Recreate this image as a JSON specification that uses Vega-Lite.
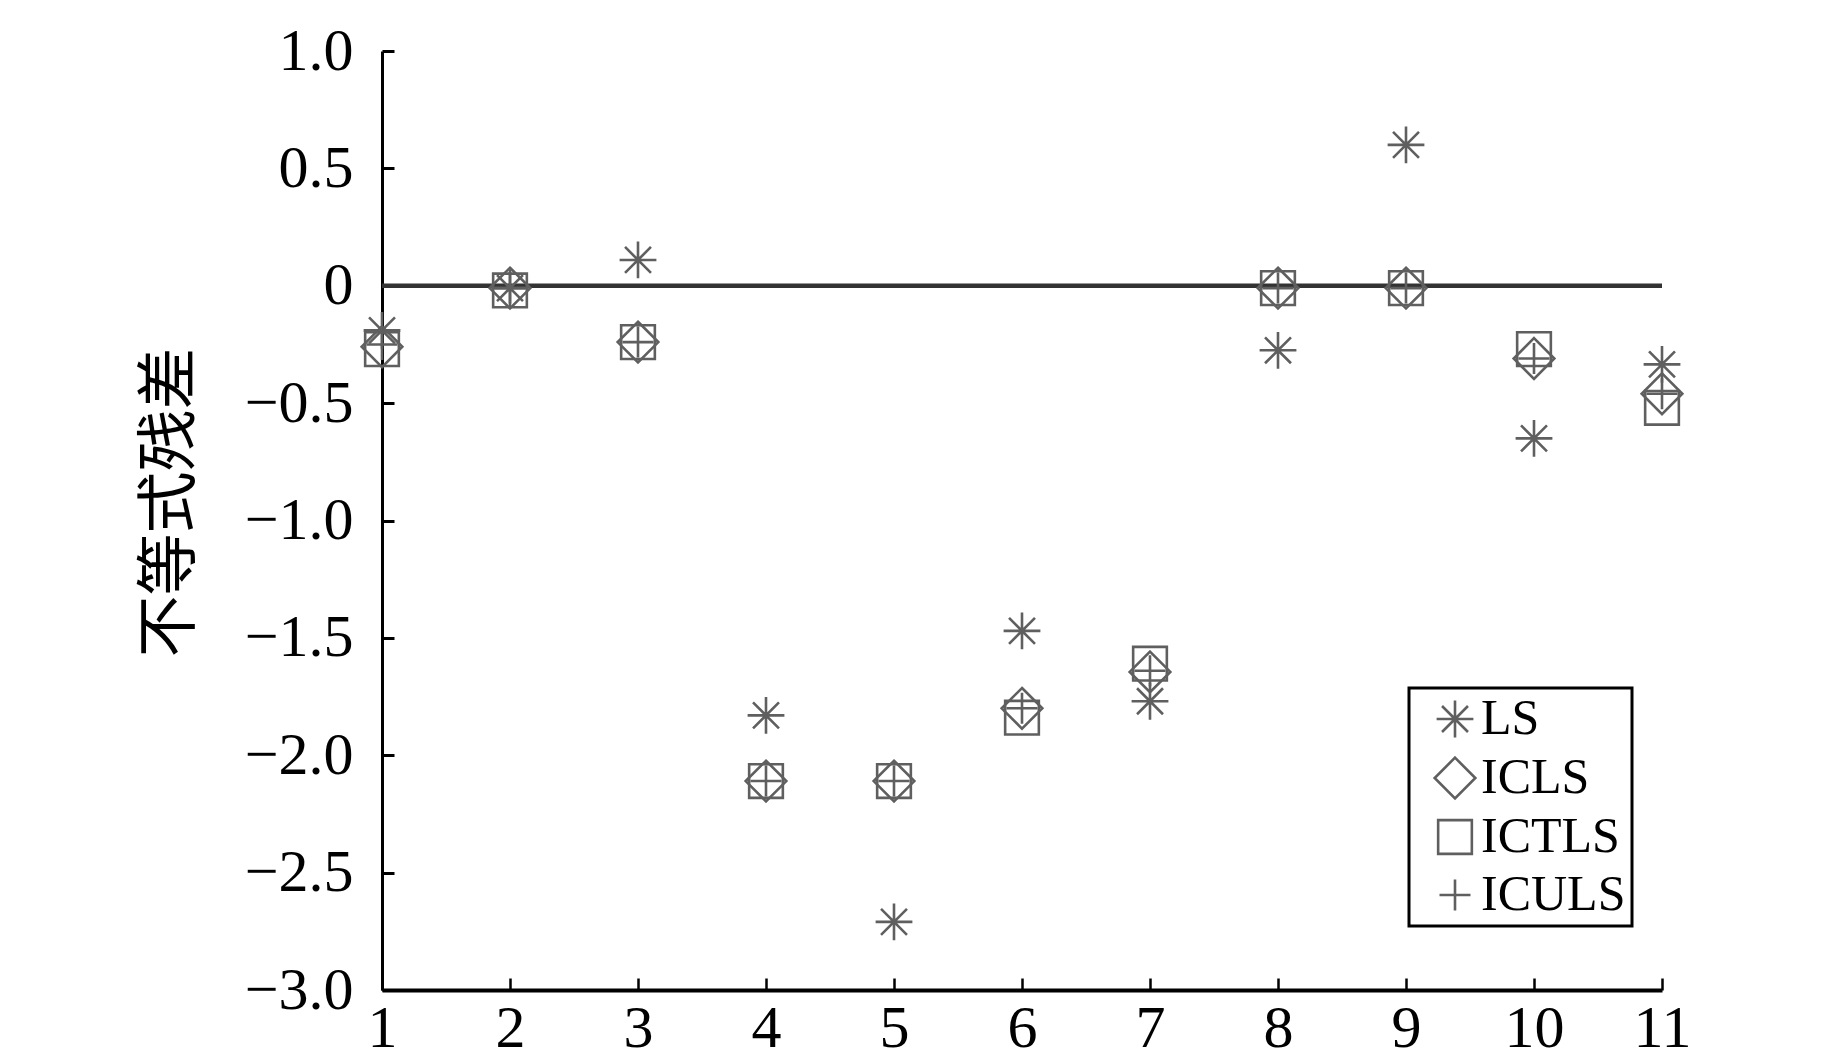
{
  "$schema": "https://vega.github.io/schema/vega-lite/v6.json",
  "width": 1280,
  "height": 939,
  "autosize": {"type": "none"},
  "padding": {"left": 382, "top": 51, "right": 181, "bottom": 73},
  "background": "white",
  "config": {"view": {"stroke": null}, "font": "Liberation Serif", "legend": {"strokeWidth": 3}},
  "datasets": {
    "zero": [{"x1": 1, "x2": 11, "y": 0}],
    "pts": [
      {"idx": 1, "method": "LS", "residual": -0.19},
      {"idx": 1, "method": "ICLS", "residual": -0.26},
      {"idx": 1, "method": "ICTLS", "residual": -0.27},
      {"idx": 1, "method": "ICULS", "residual": -0.25},
      {"idx": 2, "method": "LS", "residual": -0.01},
      {"idx": 2, "method": "ICLS", "residual": -0.01},
      {"idx": 2, "method": "ICTLS", "residual": -0.02},
      {"idx": 2, "method": "ICULS", "residual": -0.01},
      {"idx": 3, "method": "LS", "residual": 0.11},
      {"idx": 3, "method": "ICLS", "residual": -0.24},
      {"idx": 3, "method": "ICTLS", "residual": -0.24},
      {"idx": 3, "method": "ICULS", "residual": -0.24},
      {"idx": 4, "method": "LS", "residual": -1.83},
      {"idx": 4, "method": "ICLS", "residual": -2.11},
      {"idx": 4, "method": "ICTLS", "residual": -2.11},
      {"idx": 4, "method": "ICULS", "residual": -2.11},
      {"idx": 5, "method": "LS", "residual": -2.71},
      {"idx": 5, "method": "ICLS", "residual": -2.11},
      {"idx": 5, "method": "ICTLS", "residual": -2.11},
      {"idx": 5, "method": "ICULS", "residual": -2.11},
      {"idx": 6, "method": "LS", "residual": -1.47},
      {"idx": 6, "method": "ICLS", "residual": -1.8},
      {"idx": 6, "method": "ICTLS", "residual": -1.84},
      {"idx": 6, "method": "ICULS", "residual": -1.8},
      {"idx": 7, "method": "LS", "residual": -1.77},
      {"idx": 7, "method": "ICLS", "residual": -1.645},
      {"idx": 7, "method": "ICTLS", "residual": -1.61},
      {"idx": 7, "method": "ICULS", "residual": -1.64},
      {"idx": 8, "method": "LS", "residual": -0.275},
      {"idx": 8, "method": "ICLS", "residual": -0.01},
      {"idx": 8, "method": "ICTLS", "residual": -0.01},
      {"idx": 8, "method": "ICULS", "residual": -0.01},
      {"idx": 9, "method": "LS", "residual": 0.6},
      {"idx": 9, "method": "ICLS", "residual": -0.01},
      {"idx": 9, "method": "ICTLS", "residual": -0.01},
      {"idx": 9, "method": "ICULS", "residual": -0.01},
      {"idx": 10, "method": "LS", "residual": -0.65},
      {"idx": 10, "method": "ICLS", "residual": -0.31},
      {"idx": 10, "method": "ICTLS", "residual": -0.27},
      {"idx": 10, "method": "ICULS", "residual": -0.31},
      {"idx": 11, "method": "LS", "residual": -0.335},
      {"idx": 11, "method": "ICLS", "residual": -0.46},
      {"idx": 11, "method": "ICTLS", "residual": -0.52},
      {"idx": 11, "method": "ICULS", "residual": -0.46}
    ]
  },
  "layer": [
    {
      "data": {"name": "zero"},
      "mark": {"type": "rule", "color": "#333333", "strokeWidth": 4.5},
      "encoding": {
        "x": {
          "field": "x1", "type": "quantitative",
          "scale": {"domain": [1, 11], "nice": false, "zero": false},
          "axis": {
            "title": null,
            "values": [1, 2, 3, 4, 5, 6, 7, 8, 9, 10, 11],
            "format": "d",
            "grid": false,
            "domainColor": "black", "domainWidth": 4,
            "tickColor": "black", "tickWidth": 2.5, "tickSize": -12,
            "labelFont": "Liberation Serif", "labelFontSize": 60, "labelColor": "black",
            "labelPadding": 21, "labelFlush": false, "labelOverlap": false
          }
        },
        "x2": {"field": "x2"},
        "y": {
          "field": "y", "type": "quantitative",
          "scale": {"domain": [-3, 1], "nice": false, "zero": false},
          "axis": {
            "title": "不等式残差",
            "titleFont": "Noto Sans CJK SC", "titleFontSize": 62, "titleFontWeight": "normal",
            "titleColor": "black", "titleAngle": -90, "titleX": -212, "titleY": 451,
            "titleAlign": "center", "titleBaseline": "middle",
            "values": [-3, -2.5, -2, -1.5, -1, -0.5, 0, 0.5, 1],
            "labelExpr": "datum.value == 0 ? '0' : replace(format(datum.value, '.1f'), '-', '−')",
            "grid": false,
            "domainColor": "black", "domainWidth": 3,
            "tickColor": "black", "tickWidth": 3, "tickSize": -12,
            "labelFont": "Liberation Serif", "labelFontSize": 60, "labelColor": "black",
            "labelPadding": 41, "labelFlush": false, "labelOverlap": false
          }
        }
      }
    },
    {
      "data": {"name": "pts"},
      "mark": {"type": "point", "filled": false, "strokeWidth": 2.6, "color": "#5f5f5f", "size": 1500, "opacity": 1},
      "encoding": {
        "x": {"field": "idx", "type": "quantitative"},
        "y": {"field": "residual", "type": "quantitative"},
        "shape": {
          "field": "method", "type": "nominal",
          "scale": {
            "domain": ["LS", "ICLS", "ICTLS", "ICULS"],
            "range": [
              "M-0.95,0L0.95,0M0,-0.95L0,0.95M-0.67,-0.67L0.67,0.67M-0.67,0.67L0.67,-0.67",
              "M0,-1.05L1.05,0L0,1.05L-1.05,0Z",
              "M-0.87,-0.87L0.87,-0.87L0.87,0.87L-0.87,0.87Z",
              "M-0.8,0L0.8,0M0,-0.8L0,0.8"
            ]
          },
          "legend": {
            "title": null,
            "orient": "none", "legendX": 1027, "legendY": 637,
            "strokeColor": "black", "fillColor": "white",
            "padding": 6, "rowPadding": 8,
            "symbolSize": 1500, "symbolStrokeWidth": 2.6, "symbolStrokeColor": "#5f5f5f",
            "symbolFillColor": "transparent", "symbolOffset": 15,
            "labelFont": "Liberation Serif", "labelFontSize": 50, "labelColor": "black",
            "labelOffset": 1, "labelLimit": 400
          }
        }
      }
    }
  ]
}
